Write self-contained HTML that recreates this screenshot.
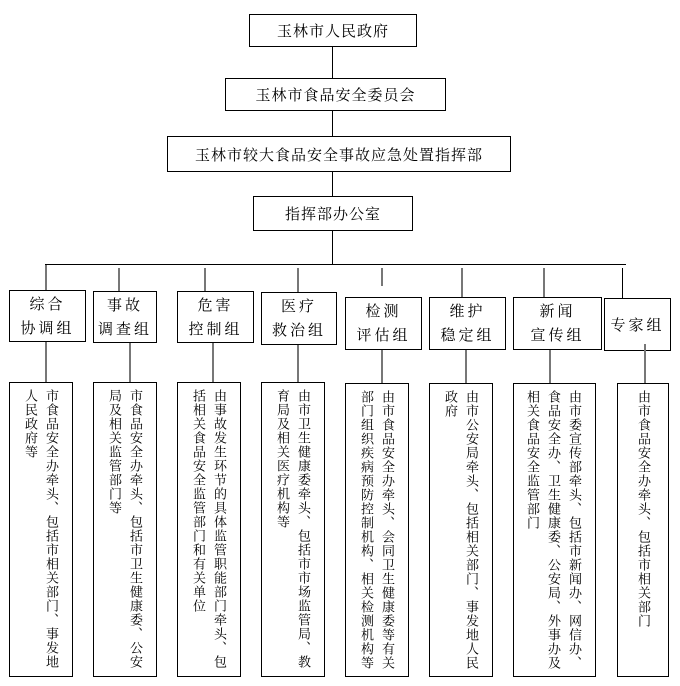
<!DOCTYPE html>
<html><head><meta charset="utf-8"><style>
body{margin:0;width:680px;height:686px;background:#fff;position:relative;overflow:hidden;font-family:"Liberation Serif","Noto Serif CJK SC","Noto Sans CJK SC",serif;color:#000}
.b{position:absolute;border:1px solid #000;box-sizing:border-box;background:#fff}
.t{display:flex;align-items:center;justify-content:center;font-size:15px;letter-spacing:1px}
.g{text-align:center;font-size:15px;letter-spacing:3px;line-height:24px;padding-top:2px}
.v{writing-mode:vertical-rl;font-size:13px;line-height:21px;letter-spacing:1px;padding:6px 10px 0 0;text-align:start}
.l{position:absolute;background:#000}
.gl{position:absolute;background:#777;width:2px}
</style></head><body>
<div class="b t" style="left:249px;top:14px;width:168px;height:33px">玉林市人民政府</div>
<div class="b t" style="left:225px;top:78px;width:221px;height:33px">玉林市食品安全委员会</div>
<div class="b t" style="left:167px;top:136px;width:344px;height:36px">玉林市较大食品安全事故应急处置指挥部</div>
<div class="b t" style="left:253px;top:196px;width:160px;height:35px">指挥部办公室</div>
<div class="l" style="left:332px;top:47px;width:1px;height:31px"></div>
<div class="l" style="left:332px;top:111px;width:1px;height:25px"></div>
<div class="l" style="left:332px;top:172px;width:1px;height:24px"></div>
<div class="l" style="left:332px;top:231px;width:1px;height:34px"></div>
<div class="l" style="left:45px;top:264px;width:581px;height:1px"></div>

<div class="gl" style="left:45px;top:265px;height:25px"></div>
<div class="gl" style="left:118px;top:268px;height:23px"></div>
<div class="gl" style="left:204px;top:268px;height:23px"></div>
<div class="gl" style="left:297px;top:268px;height:24px"></div>
<div class="gl" style="left:381px;top:268px;height:18px"></div>
<div class="gl" style="left:461px;top:268px;height:29px"></div>
<div class="gl" style="left:543px;top:268px;height:29px"></div>
<div class="l" style="left:622px;top:268px;width:1px;height:30px"></div>

<div class="b g" style="left:9px;top:290px;width:77px;height:52px">综合<br>协调组</div>
<div class="b g" style="left:93px;top:291px;width:64px;height:52px">事故<br>调查组</div>
<div class="b g" style="left:177px;top:291px;width:77px;height:52px">危害<br>控制组</div>
<div class="b g" style="left:261px;top:292px;width:76px;height:53px">医疗<br>救治组</div>
<div class="b g" style="left:345px;top:297px;width:77px;height:53px">检测<br>评估组</div>
<div class="b g" style="left:429px;top:297px;width:77px;height:53px">维护<br>稳定组</div>
<div class="b g" style="left:513px;top:297px;width:89px;height:53px">新闻<br>宣传组</div>
<div class="b t" style="left:604px;top:298px;width:67px;height:53px;letter-spacing:3px">专家组</div>

<div class="gl" style="left:45px;top:342px;height:40px"></div>
<div class="gl" style="left:129px;top:343px;height:39px"></div>
<div class="gl" style="left:212px;top:343px;height:39px"></div>
<div class="gl" style="left:297px;top:345px;height:37px"></div>
<div class="gl" style="left:381px;top:350px;height:33px"></div>
<div class="gl" style="left:465px;top:350px;height:33px"></div>
<div class="gl" style="left:549px;top:350px;height:33px"></div>
<div class="gl" style="left:644px;top:344px;height:39px"></div>

<div class="b v" style="left:9px;top:382px;width:64px;height:295px">市食品安全办牵头、包括市相关部门、事发地人民政府等</div>
<div class="b v" style="left:93px;top:382px;width:64px;height:295px">市食品安全办牵头、包括市卫生健康委、公安局及相关监管部门等</div>
<div class="b v" style="left:177px;top:382px;width:64px;height:295px">由事故发生环节的具体监管职能部门牵头、包括相关食品安全监管部门和有关单位</div>
<div class="b v" style="left:261px;top:382px;width:64px;height:295px">由市卫生健康委牵头、包括市市场监管局、教育局及相关医疗机构等</div>
<div class="b v" style="left:345px;top:383px;width:64px;height:294px">由市食品安全办牵头、会同卫生健康委等有关部门组织疾病预防控制机构、相关检测机构等</div>
<div class="b v" style="left:429px;top:383px;width:64px;height:294px">由市公安局牵头、包括相关部门、事发地人民政府</div>
<div class="b v" style="left:513px;top:383px;width:83px;height:294px">由市委宣传部牵头、包括市新闻办、网信办、食品安全办、卫生健康委、公安局、外事办及相关食品安全监管部门</div>
<div class="b v" style="left:617px;top:383px;width:52px;height:294px;padding-right:14px">由市食品安全办牵头、包括市相关部门</div>
</body></html>
